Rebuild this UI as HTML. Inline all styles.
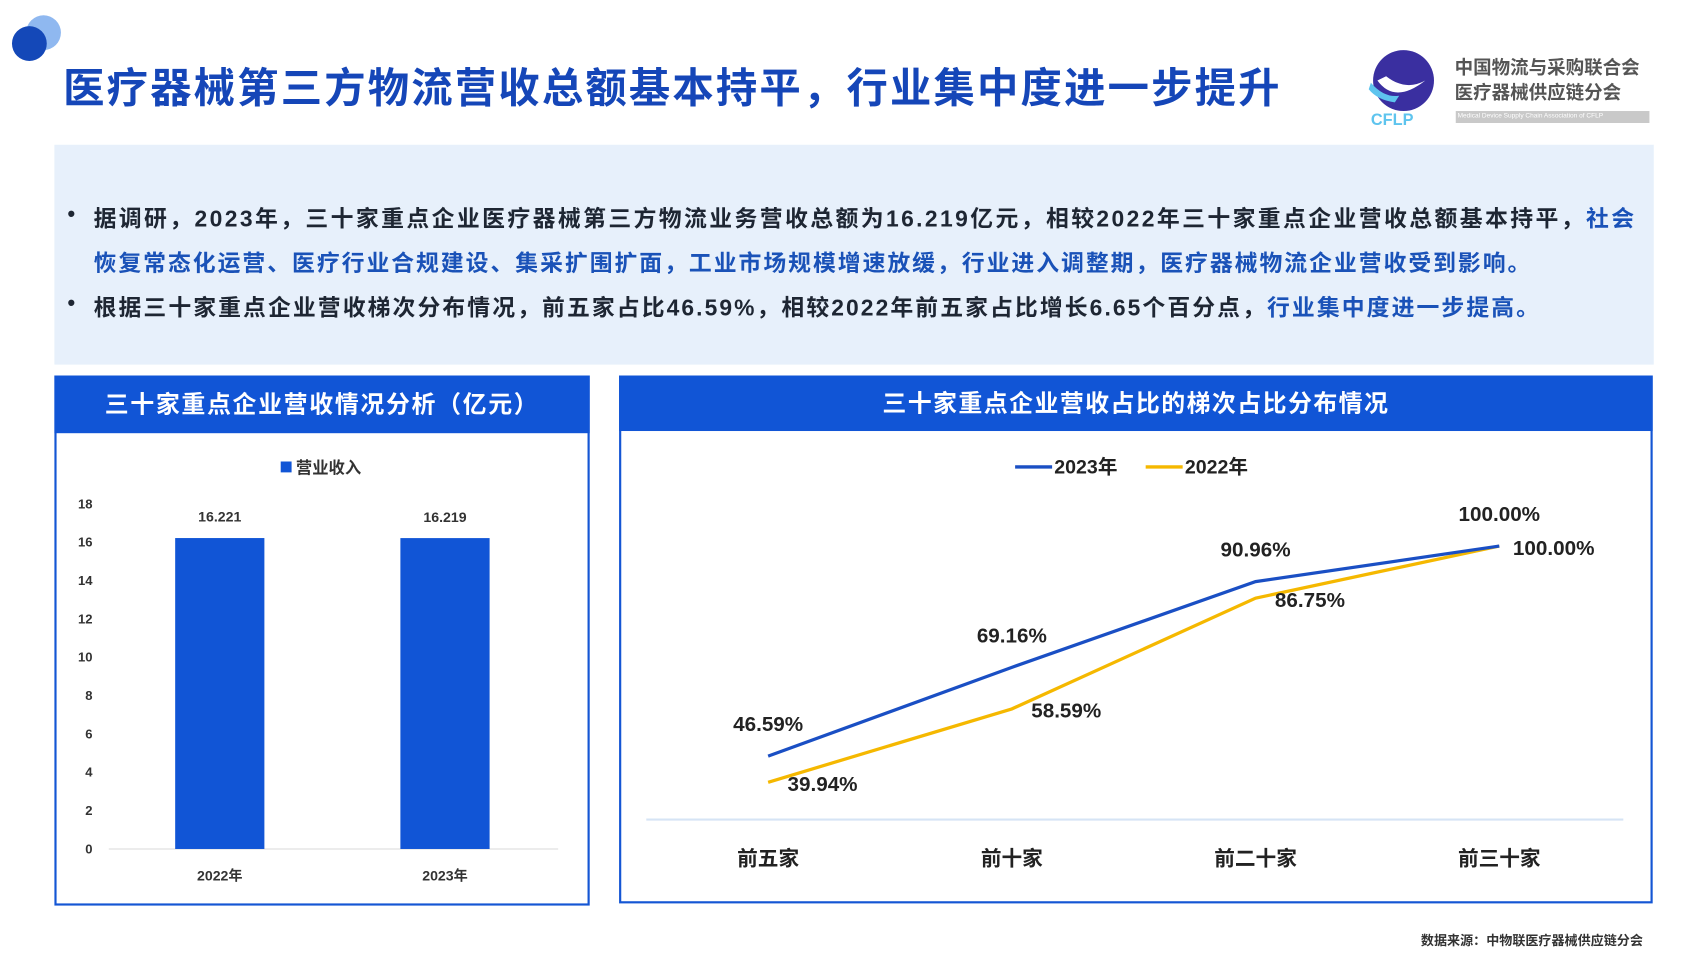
<!DOCTYPE html>
<html><head><meta charset="utf-8">
<style>
html,body{margin:0;padding:0;width:1706px;height:960px;overflow:hidden;background:#fff;}
#root{position:absolute;left:0;top:0;width:1568px;height:882px;transform:scale(1.08801,1.08844);transform-origin:0 0;font-family:"Liberation Sans","Noto Sans CJK SC",sans-serif;}
.abs{position:absolute;}
.bul{position:absolute;left:86px;font-size:21px;font-weight:bold;color:#1e2633;white-space:nowrap;}
.dot{position:absolute;left:62px;font-size:20px;font-weight:bold;color:#1e2633;}
.blue{color:#1a52b8;}
</style></head><body>
<div id="root">
  <div class="abs" style="left:24px;top:14px;width:32px;height:32px;border-radius:50%;background:#8fb8f0;"></div>
  <div class="abs" style="left:11px;top:24px;width:32px;height:32px;border-radius:50%;background:#1448b8;"></div>
  <div class="abs" style="left:58px;top:50px;font-size:38px;font-weight:bold;color:#1546b8;white-space:nowrap;letter-spacing:2px;">医疗器械第三方物流营收总额基本持平，行业集中度进一步提升</div>

  <svg class="abs" style="left:1252px;top:44px" width="75" height="75" viewBox="0 0 75 75">
    <circle cx="38" cy="30" r="28" fill="#3a2fa0"/>
    <path d="M14 30 Q30 52 58 30 Q40 40 22 26 Z" fill="#fff"/>
    <path d="M8 32 Q20 46 34 44 L30 50 Q14 48 6 38Z" fill="#5ec4ee"/>
    <text x="8" y="71" font-size="15" font-weight="bold" fill="#5ec4ee" font-family="Liberation Sans,sans-serif">CFLP</text>
  </svg>
  <div class="abs" style="left:1337px;top:51px;font-size:17px;line-height:23px;color:#555;font-weight:bold;">中国物流与采购联合会<br>医疗器械供应链分会</div>
  <div class="abs" style="left:1338px;top:102px;width:178px;height:11px;background:#c9c9c9;color:#fff;font-size:6px;line-height:11px;overflow:hidden;white-space:nowrap;">&nbsp;Medical Device Supply Chain Association of CFLP</div>

  <div class="abs" style="left:50px;top:133px;width:1470px;height:202px;background:#e7f0fb;"></div>
  <div class="dot" style="top:186px;">•</div>
  <div class="bul" style="top:185px;letter-spacing:2.2px;">据调研，2023年，三十家重点企业医疗器械第三方物流业务营收总额为16.219亿元，相较2022年三十家重点企业营收总额基本持平，<span class="blue">社会</span></div>
  <div class="bul blue" style="top:226px;letter-spacing:1.8px;">恢复常态化运营、医疗行业合规建设、集采扩围扩面，工业市场规模增速放缓，行业进入调整期，医疗器械物流企业营收受到影响。</div>
  <div class="dot" style="top:268px;">•</div>
  <div class="bul" style="top:267px;letter-spacing:1.9px;">根据三十家重点企业营收梯次分布情况，前五家占比46.59%，相较2022年前五家占比增长6.65个百分点，<span class="blue">行业集中度进一步提高。</span></div>

  <div class="abs" style="left:50px;top:345px;width:488px;height:483px;border:2px solid #1456d4;"></div>
  <div class="abs" style="left:50px;top:345px;width:492px;height:53px;background:#1155d6;color:#fff;font-size:22px;letter-spacing:1.5px;font-weight:bold;line-height:53px;text-align:center;">三十家重点企业营收情况分析（亿元）</div>
  <svg class="abs" id="barsvg" style="left:0;top:0" width="560" height="882"></svg>

  <div class="abs" style="left:569px;top:345px;width:946px;height:481px;border:2px solid #1456d4;"></div>
  <div class="abs" style="left:569px;top:345px;width:950px;height:51px;background:#1155d6;color:#fff;font-size:22px;letter-spacing:1.3px;font-weight:bold;line-height:51px;text-align:center;">三十家重点企业营收占比的梯次占比分布情况</div>
  <svg class="abs" id="linesvg" style="left:0;top:0" width="1568" height="882"></svg>

  <div class="abs" style="right:58px;top:855px;font-size:12px;font-weight:bold;color:#333;">数据来源：中物联医疗器械供应链分会</div>
</div>
<script>
const barCategories=["2022年","2023年"];
const barValues=[16.221,16.219];
const barLabels=["16.221","16.219"];
const barTicks=[0,2,4,6,8,10,12,14,16,18];

const lineCategories=["前五家","前十家","前二十家","前三十家"];
const series2023=[46.59,69.16,90.96,100.00];
const series2022=[39.94,58.59,86.75,100.00];

const NS="http://www.w3.org/2000/svg";
function mk(svg,tag,attrs,text){const e=document.createElementNS(NS,tag);for(const k in attrs)e.setAttribute(k,attrs[k]);if(text!==undefined)e.textContent=text;svg.appendChild(e);return e;}

// bar chart
const bs=document.getElementById('barsvg');
const by=v=>780-v*(317/18);
const bx=i=>202+i*207;
mk(bs,'line',{x1:100,x2:513,y1:780,y2:780,stroke:'#d9d9d9','stroke-width':1});
barTicks.forEach(t=>{const e=mk(bs,'text',{x:85,y:by(t)+4,'font-size':12,'text-anchor':'end',fill:'#333','font-weight':'bold'},t);

});
const lg=mk(bs,'rect',{x:258,y:424,width:10,height:10,fill:'#1155d6'});


const lgt=mk(bs,'text',{x:272,y:435,'font-size':15,fill:'#333','font-weight':'bold'},'营业收入');


barValues.forEach((v,i)=>{
  const r=mk(bs,'rect',{x:bx(i)-41,y:by(v),width:82,height:780-by(v),fill:'#1155d6'});
  
  
  const t=mk(bs,'text',{x:bx(i),y:by(v)-15,'font-size':13,'text-anchor':'middle',fill:'#333','font-weight':'bold'},barLabels[i]);
  
  
  const c=mk(bs,'text',{x:bx(i),y:809,'font-size':13,'text-anchor':'middle',fill:'#333','font-weight':'bold'},barCategories[i]);
  
  
});

// line chart
const ls=document.getElementById('linesvg');
const lx=i=>706+i*224;
const ly=v=>863-v*3.613;
mk(ls,'line',{x1:594,x2:1492,y1:753,y2:753,stroke:'#d6e4f5','stroke-width':2});
const l1=mk(ls,'line',{x1:933,x2:967,y1:429,y2:429,stroke:'#1a4fc4','stroke-width':3});


const t1=mk(ls,'text',{x:969,y:435,'font-size':18,fill:'#222','font-weight':'bold'},'2023年');


const l2=mk(ls,'line',{x1:1053,x2:1087,y1:429,y2:429,stroke:'#f5b800','stroke-width':3});


const t2=mk(ls,'text',{x:1089,y:435,'font-size':18,fill:'#222','font-weight':'bold'},'2022年');


const p22=mk(ls,'polyline',{points:series2022.map((v,i)=>lx(i)+','+ly(v)).join(' '),fill:'none',stroke:'#f5b800','stroke-width':3});


const p23=mk(ls,'polyline',{points:series2023.map((v,i)=>lx(i)+','+ly(v)).join(' '),fill:'none',stroke:'#1a4fc4','stroke-width':3});


series2023.forEach((v,i)=>{
  const t=mk(ls,'text',{x:lx(i),y:ly(v)-23,'font-size':19,'text-anchor':'middle',fill:'#222','font-weight':'bold'},v.toFixed(2)+'%');
  
  
});
series2022.forEach((v,i)=>{
  const t=mk(ls,'text',{x:lx(i)+50,y:ly(v)+8,'font-size':19,'text-anchor':'middle',fill:'#222','font-weight':'bold'},v.toFixed(2)+'%');
  
  
});
lineCategories.forEach((c,i)=>{
  const t=mk(ls,'text',{x:lx(i),y:795,'font-size':19,'text-anchor':'middle',fill:'#222','font-weight':'bold'},c);
  
  
});
</script>
</body></html>
